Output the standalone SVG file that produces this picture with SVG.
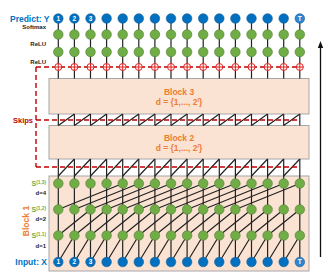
<svg xmlns="http://www.w3.org/2000/svg" width="328" height="275" viewBox="0 0 328 275">
<style>
text{font-family:"Liberation Sans",Arial,sans-serif;font-weight:bold}
.box{fill:#FBE3D3;stroke:#A6A6A6;stroke-width:1}
.ln{stroke:#222;stroke-width:1.2;fill:none}
.dash{stroke:#C00000;stroke-width:1.4;stroke-dasharray:5 3;fill:none}
.blue{fill:#0070C0;stroke:#1F5F99;stroke-width:0.6}
.green{fill:#70AD47;stroke:#507E32;stroke-width:0.6}
.plus{fill:#fff;stroke:#E02020;stroke-width:1}
.num{fill:#fff;font-size:6.5px;text-anchor:middle}
.lbl{fill:#222;font-size:6px;text-anchor:end}
.blk{fill:#ED7D31;font-size:8.5px;text-anchor:middle}
.sl{fill:#70AD47;font-size:7px;text-anchor:end}
.io{fill:#0070C0;font-size:8.5px;text-anchor:end}
</style>
<defs>
<g id="op"><circle r="3.5" class="plus"/><path d="M-3.5 0H3.5M0 -3.5V3.5" stroke="#E02020" stroke-width="1"/></g>
</defs>
<g id="block3"><rect class="box" x="49" y="78.5" width="260" height="35.5"/><text class="blk" x="179" y="94.5">Block 3</text><text class="blk" x="179" y="104.5">d = {1,..., 2<tspan font-size="5.5px" dy="-3">l</tspan><tspan dy="3">}</tspan></text></g>
<g id="block2"><rect class="box" x="49" y="125.5" width="260" height="33.5"/><text class="blk" x="179" y="141">Block 2</text><text class="blk" x="179" y="151">d = {1,..., 2<tspan font-size="5.5px" dy="-3">l</tspan><tspan dy="3">}</tspan></text></g>
<g id="block1"><rect class="box" x="49" y="176" width="260" height="95"/><text class="blk" transform="translate(28.5 221) rotate(-90)">Block 1</text></g>
<g id="connectors">
<path class="ln" d="M58.3 18.5V78.5M74.4 18.5V78.5M90.5 18.5V78.5M106.6 18.5V78.5M122.7 18.5V78.5M138.8 18.5V78.5M154.9 18.5V78.5M171 18.5V78.5M187.1 18.5V78.5M203.2 18.5V78.5M219.3 18.5V78.5M235.4 18.5V78.5M251.5 18.5V78.5M267.6 18.5V78.5M283.7 18.5V78.5M299.8 18.5V78.5"/>
<path class="ln" d="M58.3 114V125.5M74.4 114V125.5M90.5 114V125.5M106.6 114V125.5M122.7 114V125.5M138.8 114V125.5M154.9 114V125.5M171 114V125.5M187.1 114V125.5M203.2 114V125.5M219.3 114V125.5M235.4 114V125.5M251.5 114V125.5M267.6 114V125.5M283.7 114V125.5M299.8 114V125.5"/>
<path class="ln" d="M58.3 125.5L74.4 114M74.4 125.5L90.5 114M90.5 125.5L106.6 114M106.6 125.5L122.7 114M122.7 125.5L138.8 114M138.8 125.5L154.9 114M154.9 125.5L171 114M171 125.5L187.1 114M187.1 125.5L203.2 114M203.2 125.5L219.3 114M219.3 125.5L235.4 114M235.4 125.5L251.5 114M251.5 125.5L267.6 114M267.6 125.5L283.7 114M283.7 125.5L299.8 114"/>
<path class="ln" d="M58.3 159V262M74.4 159V262M90.5 159V262M106.6 159V262M122.7 159V262M138.8 159V262M154.9 159V262M171 159V262M187.1 159V262M203.2 159V262M219.3 159V262M235.4 159V262M251.5 159V262M267.6 159V262M283.7 159V262M299.8 159V262"/>
<path class="ln" d="M58.3 176L74.4 159M74.4 176L90.5 159M90.5 176L106.6 159M106.6 176L122.7 159M122.7 176L138.8 159M138.8 176L154.9 159M154.9 176L171 159M171 176L187.1 159M187.1 176L203.2 159M203.2 176L219.3 159M219.3 176L235.4 159M235.4 176L251.5 159M251.5 176L267.6 159M267.6 176L283.7 159M283.7 176L299.8 159"/>
<path class="ln" d="M58.3 262L74.4 235.5M74.4 262L90.5 235.5M90.5 262L106.6 235.5M106.6 262L122.7 235.5M122.7 262L138.8 235.5M138.8 262L154.9 235.5M154.9 262L171 235.5M171 262L187.1 235.5M187.1 262L203.2 235.5M203.2 262L219.3 235.5M219.3 262L235.4 235.5M235.4 262L251.5 235.5M251.5 262L267.6 235.5M267.6 262L283.7 235.5M283.7 262L299.8 235.5"/>
<path class="ln" d="M58.3 235.5L90.5 209.5M74.4 235.5L106.6 209.5M90.5 235.5L122.7 209.5M106.6 235.5L138.8 209.5M122.7 235.5L154.9 209.5M138.8 235.5L171 209.5M154.9 235.5L187.1 209.5M171 235.5L203.2 209.5M187.1 235.5L219.3 209.5M203.2 235.5L235.4 209.5M219.3 235.5L251.5 209.5M235.4 235.5L267.6 209.5M251.5 235.5L283.7 209.5M267.6 235.5L299.8 209.5"/>
<path class="ln" d="M58.3 209.5L122.7 183.5M74.4 209.5L138.8 183.5M90.5 209.5L154.9 183.5M106.6 209.5L171 183.5M122.7 209.5L187.1 183.5M138.8 209.5L203.2 183.5M154.9 209.5L219.3 183.5M171 209.5L235.4 183.5M187.1 209.5L251.5 183.5M203.2 209.5L267.6 183.5M219.3 209.5L283.7 183.5M235.4 209.5L299.8 183.5"/>
<path class="dash" d="M36 67H300"/>
<path class="dash" d="M36 67V167"/>
<path class="dash" d="M36 120H300"/>
<path class="dash" d="M36 167H300"/>
<path d="M320.5 257V47" stroke="#111" stroke-width="1.3"/>
<path d="M320.5 41L317.8 48H323.2Z" fill="#111"/>
</g>
<g id="ops">
<use href="#op" x="58.3" y="67"/><use href="#op" x="74.4" y="67"/><use href="#op" x="90.5" y="67"/><use href="#op" x="106.6" y="67"/><use href="#op" x="122.7" y="67"/><use href="#op" x="138.8" y="67"/><use href="#op" x="154.9" y="67"/><use href="#op" x="171" y="67"/><use href="#op" x="187.1" y="67"/><use href="#op" x="203.2" y="67"/><use href="#op" x="219.3" y="67"/><use href="#op" x="235.4" y="67"/><use href="#op" x="251.5" y="67"/><use href="#op" x="267.6" y="67"/><use href="#op" x="283.7" y="67"/><use href="#op" x="299.8" y="67"/>
</g>
<g id="output">
<g class="blue"><circle cx="58.3" cy="18.5" r="4.8"/><circle cx="74.4" cy="18.5" r="4.8"/><circle cx="90.5" cy="18.5" r="4.8"/><circle cx="106.6" cy="18.5" r="4.8"/><circle cx="122.7" cy="18.5" r="4.8"/><circle cx="138.8" cy="18.5" r="4.8"/><circle cx="154.9" cy="18.5" r="4.8"/><circle cx="171" cy="18.5" r="4.8"/><circle cx="187.1" cy="18.5" r="4.8"/><circle cx="203.2" cy="18.5" r="4.8"/><circle cx="219.3" cy="18.5" r="4.8"/><circle cx="235.4" cy="18.5" r="4.8"/><circle cx="251.5" cy="18.5" r="4.8"/><circle cx="267.6" cy="18.5" r="4.8"/><circle cx="283.7" cy="18.5" r="4.8"/><circle cx="299.8" cy="18.5" r="4.8" fill="#2E86D0"/></g>
<text class="num" x="58.3" y="20.8">1</text><text class="num" x="74.4" y="20.8">2</text><text class="num" x="90.5" y="20.8">3</text><text class="num" x="299.8" y="20.8">T</text>
</g>
<g id="hidden2">
<g class="green"><circle cx="58.3" cy="34.5" r="4.8"/><circle cx="74.4" cy="34.5" r="4.8"/><circle cx="90.5" cy="34.5" r="4.8"/><circle cx="106.6" cy="34.5" r="4.8"/><circle cx="122.7" cy="34.5" r="4.8"/><circle cx="138.8" cy="34.5" r="4.8"/><circle cx="154.9" cy="34.5" r="4.8"/><circle cx="171" cy="34.5" r="4.8"/><circle cx="187.1" cy="34.5" r="4.8"/><circle cx="203.2" cy="34.5" r="4.8"/><circle cx="219.3" cy="34.5" r="4.8"/><circle cx="235.4" cy="34.5" r="4.8"/><circle cx="251.5" cy="34.5" r="4.8"/><circle cx="267.6" cy="34.5" r="4.8"/><circle cx="283.7" cy="34.5" r="4.8"/><circle cx="299.8" cy="34.5" r="4.8"/></g>
</g>
<g id="hidden1">
<g class="green"><circle cx="58.3" cy="52" r="4.8"/><circle cx="74.4" cy="52" r="4.8"/><circle cx="90.5" cy="52" r="4.8"/><circle cx="106.6" cy="52" r="4.8"/><circle cx="122.7" cy="52" r="4.8"/><circle cx="138.8" cy="52" r="4.8"/><circle cx="154.9" cy="52" r="4.8"/><circle cx="171" cy="52" r="4.8"/><circle cx="187.1" cy="52" r="4.8"/><circle cx="203.2" cy="52" r="4.8"/><circle cx="219.3" cy="52" r="4.8"/><circle cx="235.4" cy="52" r="4.8"/><circle cx="251.5" cy="52" r="4.8"/><circle cx="267.6" cy="52" r="4.8"/><circle cx="283.7" cy="52" r="4.8"/><circle cx="299.8" cy="52" r="4.8"/></g>
</g>
<g id="s13">
<g class="green"><circle cx="58.3" cy="183.5" r="4.8"/><circle cx="74.4" cy="183.5" r="4.8"/><circle cx="90.5" cy="183.5" r="4.8"/><circle cx="106.6" cy="183.5" r="4.8"/><circle cx="122.7" cy="183.5" r="4.8"/><circle cx="138.8" cy="183.5" r="4.8"/><circle cx="154.9" cy="183.5" r="4.8"/><circle cx="171" cy="183.5" r="4.8"/><circle cx="187.1" cy="183.5" r="4.8"/><circle cx="203.2" cy="183.5" r="4.8"/><circle cx="219.3" cy="183.5" r="4.8"/><circle cx="235.4" cy="183.5" r="4.8"/><circle cx="251.5" cy="183.5" r="4.8"/><circle cx="267.6" cy="183.5" r="4.8"/><circle cx="283.7" cy="183.5" r="4.8"/><circle cx="299.8" cy="183.5" r="4.8"/></g>
</g>
<g id="s12">
<g class="green"><circle cx="58.3" cy="209.5" r="4.8"/><circle cx="74.4" cy="209.5" r="4.8"/><circle cx="90.5" cy="209.5" r="4.8"/><circle cx="106.6" cy="209.5" r="4.8"/><circle cx="122.7" cy="209.5" r="4.8"/><circle cx="138.8" cy="209.5" r="4.8"/><circle cx="154.9" cy="209.5" r="4.8"/><circle cx="171" cy="209.5" r="4.8"/><circle cx="187.1" cy="209.5" r="4.8"/><circle cx="203.2" cy="209.5" r="4.8"/><circle cx="219.3" cy="209.5" r="4.8"/><circle cx="235.4" cy="209.5" r="4.8"/><circle cx="251.5" cy="209.5" r="4.8"/><circle cx="267.6" cy="209.5" r="4.8"/><circle cx="283.7" cy="209.5" r="4.8"/><circle cx="299.8" cy="209.5" r="4.8"/></g>
</g>
<g id="s11">
<g class="green"><circle cx="58.3" cy="235.5" r="4.8"/><circle cx="74.4" cy="235.5" r="4.8"/><circle cx="90.5" cy="235.5" r="4.8"/><circle cx="106.6" cy="235.5" r="4.8"/><circle cx="122.7" cy="235.5" r="4.8"/><circle cx="138.8" cy="235.5" r="4.8"/><circle cx="154.9" cy="235.5" r="4.8"/><circle cx="171" cy="235.5" r="4.8"/><circle cx="187.1" cy="235.5" r="4.8"/><circle cx="203.2" cy="235.5" r="4.8"/><circle cx="219.3" cy="235.5" r="4.8"/><circle cx="235.4" cy="235.5" r="4.8"/><circle cx="251.5" cy="235.5" r="4.8"/><circle cx="267.6" cy="235.5" r="4.8"/><circle cx="283.7" cy="235.5" r="4.8"/><circle cx="299.8" cy="235.5" r="4.8"/></g>
</g>
<g id="input">
<g class="blue"><circle cx="58.3" cy="262" r="4.8"/><circle cx="74.4" cy="262" r="4.8"/><circle cx="90.5" cy="262" r="4.8"/><circle cx="106.6" cy="262" r="4.8"/><circle cx="122.7" cy="262" r="4.8"/><circle cx="138.8" cy="262" r="4.8"/><circle cx="154.9" cy="262" r="4.8"/><circle cx="171" cy="262" r="4.8"/><circle cx="187.1" cy="262" r="4.8"/><circle cx="203.2" cy="262" r="4.8"/><circle cx="219.3" cy="262" r="4.8"/><circle cx="235.4" cy="262" r="4.8"/><circle cx="251.5" cy="262" r="4.8"/><circle cx="267.6" cy="262" r="4.8"/><circle cx="283.7" cy="262" r="4.8"/><circle cx="299.8" cy="262" r="4.8" fill="#2E86D0"/></g>
<text class="num" x="58.3" y="264.3">1</text><text class="num" x="74.4" y="264.3">2</text><text class="num" x="90.5" y="264.3">3</text><text class="num" x="299.8" y="264.3">T</text>
</g>
<g id="labels">
<text class="io" x="49.5" y="21.5">Predict: Y</text>
<text class="lbl" x="46" y="29">Softmax</text>
<text class="lbl" x="46" y="45.5">ReLU</text>
<text class="lbl" x="46" y="63.5">ReLU</text>
<text x="33" y="123" fill="#C00000" font-size="7.5px" text-anchor="end">Skips</text>
<text class="sl" x="46" y="186">S<tspan font-size="4.8px" dy="-2.5">(1,3)</tspan></text>
<text class="lbl" x="46" y="195">d=4</text>
<text class="sl" x="46" y="212">S<tspan font-size="4.8px" dy="-2.5">(1,2)</tspan></text>
<text class="lbl" x="46" y="221">d=2</text>
<text class="sl" x="46" y="238">S<tspan font-size="4.8px" dy="-2.5">(1,1)</tspan></text>
<text class="lbl" x="46" y="247.5">d=1</text>
<text class="io" x="47" y="265">Input: X</text>
</g>
</svg>
